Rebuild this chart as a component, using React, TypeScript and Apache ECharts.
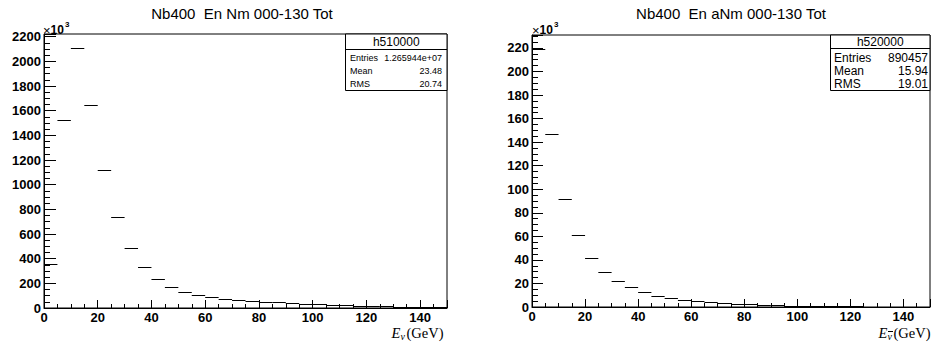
import React, { useEffect, useRef } from "react";
import * as echarts from "echarts";

// Bin edges (GeV)
const binEdges = [0, 5, 10, 15, 20, 25, 30, 35, 40, 45, 50, 55, 60, 65, 70, 75, 80, 85, 90, 95, 100, 105, 110, 115, 120, 125, 130, 135, 140, 145, 150];

// Left histogram (x10^3 entries)
const nuCounts = [355, 1527, 2106, 1649, 1122, 741, 489, 332, 235, 172, 132, 104, 86, 73, 63, 57, 51, 45, 40, 35, 30, 26, 22, 19, 16, 14, 11, 9, 8, 7];
// Right histogram (x10^3 entries)
const antiNuCounts = [219, 147, 92, 61, 42, 30, 21.7, 16.6, 12.6, 9.7, 7.7, 6.2, 5.2, 4.2, 3.4, 2.8, 2.2, 1.8, 1.5, 1.2, 1.0, 0.8, 0.7, 0.55, 0.45, 0.4, 0.3, 0.25, 0.2, 0.18];

const titles = ["Nb400  En Nm 000-130 Tot", "Nb400  En aNm 000-130 Tot"];
const histNames = ["h510000", "h520000"];
const statLabels = ["Entries", "Mean", "RMS"];
const statsLeft = ["1.265944e+07", "23.48", "20.74"];
const statsRight = ["890457", "15.94", "19.01"];

const leftYMax = 2222;
const rightYMax = 231;

const SANS = "Liberation Sans";
const SERIF = "Liberation Serif";

function histData(counts: number[]) {
  return counts.map((v, i) => [binEdges[i], binEdges[i + 1], v]);
}

function renderBin(params: any, api: any) {
  const p0 = api.coord([api.value(0), api.value(2)]);
  const p1 = api.coord([api.value(1), api.value(2)]);
  const y = Math.round(p0[1]) + 0.5;
  return {
    type: "line",
    shape: { x1: p0[0], y1: y, x2: p1[0], y2: y },
    style: { stroke: "#000", lineWidth: 1 },
  };
}

const labelStyle = {
  color: "#000",
  fontFamily: SANS,
  fontWeight: "bold" as const,
  fontSize: 13,
};

function xAxes(gridIndex: number) {
  return [
    {
      type: "value",
      gridIndex,
      position: "bottom",
      min: 0,
      max: 150,
      interval: 5,
      axisLine: { show: true, lineStyle: { color: "#000", width: 1 } },
      axisTick: { show: true, inside: true, length: 4, lineStyle: { color: "#000" } },
      axisLabel: {
        ...labelStyle,
        margin: 3,
        lineHeight: 13,
        formatter: (v: number) => (v % 20 === 0 && v <= 140 ? String(v) : ""),
      },
      splitLine: { show: false },
    },
    {
      type: "value",
      gridIndex,
      position: "bottom",
      min: 0,
      max: 150,
      interval: 20,
      axisLine: { show: false },
      axisTick: { show: true, inside: true, length: 8, lineStyle: { color: "#000" } },
      axisLabel: { show: false },
      splitLine: { show: false },
    },
  ];
}

function yAxes(gridIndex: number, max: number, minor: number, major: number, majorLen: number) {
  return [
    {
      type: "value",
      gridIndex,
      position: "left",
      min: 0,
      max,
      interval: minor,
      axisLine: { show: true, lineStyle: { color: "#000", width: 1 } },
      axisTick: { show: true, inside: true, length: 6, lineStyle: { color: "#000" } },
      axisLabel: {
        ...labelStyle,
        margin: 3,
        formatter: (v: number) => (v % major === 0 ? String(v) : ""),
      },
      splitLine: { show: false },
    },
    {
      type: "value",
      gridIndex,
      position: "left",
      min: 0,
      max,
      interval: major,
      axisLine: { show: false },
      axisTick: { show: true, inside: true, length: majorLen, lineStyle: { color: "#000" } },
      axisLabel: { show: false },
      splitLine: { show: false },
    },
  ];
}

function txt(x: number, y: number, text: string, opts: any = {}) {
  const align = opts.align || "left";
  const valign = opts.valign || "middle";
  return {
    type: "text",
    x,
    y,
    silent: true,
    style: {
      text,
      fill: "#000",
      fontFamily: opts.family || SANS,
      fontSize: opts.size || 12,
      fontWeight: opts.weight || "normal",
      fontStyle: opts.style || "normal",
      align,
      verticalAlign: valign,
      textAlign: align,
      textVerticalAlign: valign,
    },
  };
}

function statsBox(x0: number, x1: number, y0: number, yDiv: number, y1: number, name: string, values: string[], size: number, rows: number[], labelX: number, valueX: number) {
  const els: any[] = [
    {
      type: "rect",
      shape: { x: x0, y: y0, width: x1 - x0, height: y1 - y0 },
      style: { fill: "#fff", stroke: "#000", lineWidth: 1 },
      z: 10,
    },
    {
      type: "line",
      shape: { x1: x0, y1: yDiv, x2: x1, y2: yDiv },
      style: { stroke: "#000", lineWidth: 1 },
      z: 11,
    },
    { ...txt((x0 + x1) / 2, (y0 + yDiv) / 2 + 0.5, name, { align: "center", size: 12 }), z: 11 },
  ];
  statLabels.forEach((l, i) => {
    els.push({ ...txt(labelX, rows[i], l, { size }), z: 11 });
    els.push({ ...txt(valueX, rows[i], values[i], { size, align: "right" }), z: 11 });
  });
  return els;
}

function times10(x: number) {
  return [
    txt(x, 30, "×", { size: 13 }),
    txt(x + 7.5, 30, "10", { size: 12, weight: "bold" }),
    txt(x + 22, 24, "3", { size: 8, weight: "bold" }),
  ];
}

function xTitle(right: number, bar: boolean) {
  const els: any[] = [
    txt(right, 332.5, "(GeV)", { family: SERIF, size: 14.5, align: "right" }),
    txt(right - 52, 332.5, "E", { family: SERIF, size: 14.5, style: "italic" }),
    txt(right - 43, 336.5, "ν", { family: SERIF, size: 10, style: "italic" }),
  ];
  if (bar) {
    els.push({
      type: "line",
      shape: { x1: right - 42.5, y1: 331.5, x2: right - 37.5, y2: 331.5 },
      style: { stroke: "#000", lineWidth: 1 },
    });
  }
  return els;
}

export default function App() {
  const ref = useRef<HTMLDivElement>(null);

  useEffect(() => {
    if (!ref.current) return;
    const chart = echarts.init(ref.current, undefined, { renderer: "svg" });

    const option: any = {
      animation: false,
      backgroundColor: "#fff",
      grid: [
        { left: 44, top: 34, width: 403, height: 274, show: true, borderColor: "#000", borderWidth: 1, backgroundColor: "transparent", containLabel: false },
        { left: 532, top: 35, width: 398, height: 272, show: true, borderColor: "#000", borderWidth: 1, backgroundColor: "transparent", containLabel: false },
      ],
      xAxis: [...xAxes(0), ...xAxes(1)],
      yAxis: [...yAxes(0, leftYMax, 50, 200, 12), ...yAxes(1, rightYMax, 5, 20, 11)],
      series: [
        {
          type: "custom",
          xAxisIndex: 0,
          yAxisIndex: 0,
          renderItem: renderBin,
          encode: { x: [0, 1], y: 2 },
          data: histData(nuCounts),
          clip: true,
          silent: true,
        },
        {
          type: "custom",
          xAxisIndex: 2,
          yAxisIndex: 2,
          renderItem: renderBin,
          encode: { x: [0, 1], y: 2 },
          data: histData(antiNuCounts),
          clip: true,
          silent: true,
        },
      ],
      graphic: [
        txt(242, 13.5, titles[0], { align: "center", size: 15 }),
        txt(731, 13.5, titles[1], { align: "center", size: 15 }),
        ...times10(43),
        ...times10(532),
        ...statsBox(345.5, 447, 34, 49.5, 90.5, histNames[0], statsLeft, 9, [57.5, 70.5, 83.5], 350, 442),
        ...statsBox(830.5, 930, 35, 48.5, 90.5, histNames[1], statsRight, 12, [57.5, 71, 84], 834, 928),
        ...xTitle(443.5, false),
        ...xTitle(930.5, true),
      ],
    };
    chart.setOption(option);
    return () => chart.dispose();
  }, []);

  return (
    <div
      ref={ref}
      style={{ position: "fixed", left: 0, top: 0, width: 933, height: 344, background: "#fff" }}
    />
  );
}
